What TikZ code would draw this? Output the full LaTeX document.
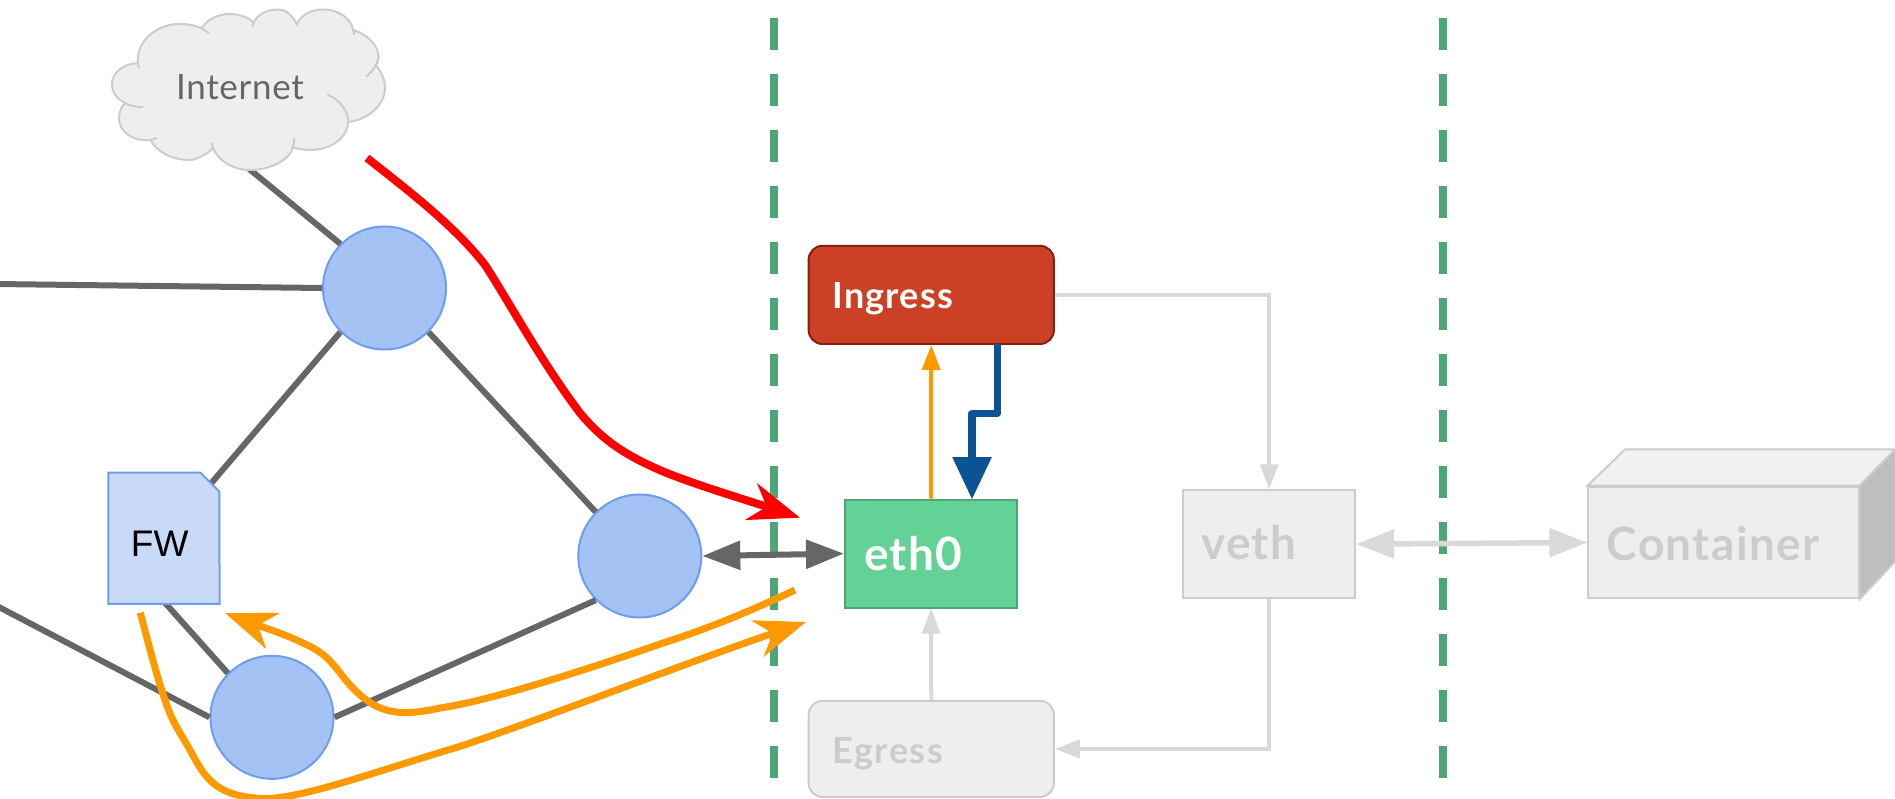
\documentclass[tikz,border=0pt]{standalone}
\usepackage{fontspec}
\setmainfont{Lato}
\newfontfamily\labelfont{Liberation Sans}
\newfontfamily\spacedA[LetterSpace=3]{Lato}
\newfontfamily\spacedB[LetterSpace=4]{Lato}
\newfontfamily\spacedC[LetterSpace=2]{Lato}
\usetikzlibrary{arrows.meta}
\definecolor{netgray}{HTML}{666666}
\definecolor{ghost}{HTML}{D9D9D9}
\definecolor{ghostedge}{HTML}{CCCCCC}
\definecolor{ghostfill}{HTML}{EEEEEE}
\definecolor{splitgreen}{HTML}{4EA576}
\definecolor{hostblue}{HTML}{A4C2F4}
\definecolor{hostedge}{HTML}{6D9EEB}
\definecolor{fwfill}{HTML}{C9DAF8}
\definecolor{flow}{HTML}{FF9900}
\definecolor{blueflow}{HTML}{0B5394}
\tikzset{
  host/.style={circle,draw=hostedge,fill=hostblue,line width=2pt,minimum size=123pt,inner sep=0pt},
  netline/.style={draw=netgray,line width=6pt},
  divider/.style={draw=splitgreen,line width=8pt,dash pattern=on 32pt off 24pt},
  ghostbox/.style={draw=ghostedge,fill=ghostfill,line width=2pt,inner sep=0pt},
  ghostline/.style={draw=ghost,line width=4pt,-{Triangle[length=25pt,width=18pt]}},
  ghostbig/.style={draw=ghost,line width=5.5pt,{Triangle[length=38pt,width=28pt]}-{Triangle[length=38pt,width=28pt]}},
  boldlabel/.style={anchor=base west,inner sep=0pt},
  redflow/.style={draw=red,line width=8pt,-{Stealth[length=51pt,width=38pt,inset=16pt]}},
  orangeflow/.style={draw=flow,line width=7pt,-{Stealth[length=51pt,width=38pt,inset=16pt]}},
}
\begin{document}
\begin{tikzpicture}[x=1pt,y=-1pt]
\useasboundingbox (0,0) rectangle (1895,799);
\clip (0,0) rectangle (1895,799);
% named free ends
\coordinate (cloudfoot) at (248,168);
\coordinate (leftA) at (-5,284);
\coordinate (leftB) at (-5,605);
\coordinate (fwcut) at (208,487);
\coordinate (fwfoot) at (164.3,602);
\coordinate (divAtop) at (773.5,18);
\coordinate (divAbot) at (773.5,778);
\coordinate (divBtop) at (1442.5,18);
\coordinate (divBbot) at (1442.5,778);
\coordinate (bluestart) at (997.3,344);
\coordinate (blueelbowA) at (997.3,413.5);
\coordinate (blueelbowB) at (972,413.5);
\coordinate (blueend) at (972,499.5);
% dividers
\draw[divider] (divAtop) -- (divAbot);
\draw[divider] (divBtop) -- (divBbot);
% hosts
\node[host] (topc) at (384.5,288) {};
\node[host] (rc) at (639.8,556) {};
\node[host] (bc) at (272,717.3) {};
% boxes
\node[draw=none,minimum width=110.7pt,minimum height=131pt,inner sep=0pt] (fw) at (164,538.2) {};
\node[draw={rgb,255:red,133;green,32;blue,12},fill={rgb,255:red,204;green,65;blue,37},line width=2pt,rounded corners=14pt,minimum width=245.3pt,minimum height=98.2pt,inner sep=0pt] (ingress) at (931.25,294.9) {};
\node[draw={rgb,255:red,78;green,165;blue,118},fill={rgb,255:red,99;green,210;blue,151},line width=2pt,minimum width=172.2pt,minimum height=108.2pt,inner sep=0pt] (eth) at (931.1,553.6) {};
\node[ghostbox,rounded corners=14pt,minimum width=245.3pt,minimum height=96.2pt] (egress) at (931.25,748.9) {};
\node[ghostbox,minimum width=171.7pt,minimum height=107.7pt] (veth) at (1269.15,544.15) {};
\node[ghostbox,minimum width=270.2pt,minimum height=111.6pt] (container) at (1723.5,542.5) {};
% network links
\draw[netline] (cloudfoot) -- (topc.135);
\draw[netline] (leftA) -- (topc.west);
\draw[netline] (topc.225) -- (fwcut);
\draw[netline] (topc.-45) -- (rc.135);
\draw[netline] (fwfoot) -- (bc.135);
\draw[netline] (leftB) -- (bc.west);
\draw[netline] (bc.east) -- (rc.225);
% cloud
\path[draw=ghostedge,fill=ghostfill,line width=2pt]
 (137.8,63.3)
 .. controls (136,40) and (158,24) .. (179,24)
 .. controls (187,24) and (195,25) .. (201.5,28.3)
 .. controls (208,18) and (220,14) .. (230,14)
 .. controls (240,14) and (250,18) .. (253.6,23)
 .. controls (257,14) and (268,9.5) .. (278,9.5)
 .. controls (287,9.5) and (293,17) .. (297,24)
 .. controls (302,14) and (312,9.5) .. (323,9.5)
 .. controls (340,9.5) and (352,20) .. (353,30)
 .. controls (368,34) and (378.6,47) .. (378.6,56)
 .. controls (378.6,60) and (378,62) .. (376,65)
 .. controls (382,73) and (385,80) .. (385,88)
 .. controls (385,105) and (368,120) .. (348,122)
 .. controls (348,138) and (330,150) .. (311,150)
 .. controls (304,150) and (298,149) .. (293,147)
 .. controls (290,160) and (270,170) .. (250,170)
 .. controls (232,170) and (218,160) .. (213,148)
 .. controls (205,156) and (195,160) .. (190,160)
 .. controls (172,160) and (157,152) .. (150.5,140)
 .. controls (133,142) and (119,132) .. (119,118)
 .. controls (119,112) and (121,107) .. (125,103)
 .. controls (116,98) and (112,92) .. (112,84)
 .. controls (112,72) and (125,63) .. (137.8,63.3)
 -- cycle;
\draw[draw=ghostedge,line width=2pt]
 (137.8,63.3) -- (139,68)
 (201.5,28.3) -- (209,33)
 (253.6,23) -- (252.5,27)
 (297,24) -- (296,25.5)
 (353,30) -- (354.5,35)
 (378.6,56) .. controls (378,64) and (372,72) .. (366,76.5)
 (327.5,94.5) .. controls (340,100) and (349,112) .. (348,122)
 (293,147) .. controls (294,144) and (294,141) .. (294.5,138)
 (213,148) -- (211.5,143)
 (150.5,140) -- (157,138)
 (125,103) .. controls (130,106) and (136,107) .. (143,107);
\node[inner sep=0pt,text=netgray,font=\spacedC\fontsize{35}{40}\selectfont] (internet) at (240,87) {Internet};
% FW page
\path[draw=hostedge,fill=fwfill,line width=2pt]
 (fw.north west) -- (200.5,472.7) -- (219.4,491.7) -- (fw.south east) -- (fw.south west) -- cycle;
\node[inner sep=0pt,font=\labelfont\fontsize{37}{40}\selectfont,text=black] (fwlabel) at (159.7,543.3) {FW};
% container faces
\path[draw=ghostedge,fill={rgb,255:red,241;green,241;blue,241},line width=2pt]
 (container.north west) -- (1625.2,449.3) -- (1895.6,449.3) -- (container.north east) -- cycle;
\path[draw=ghostedge,fill={rgb,255:red,190;green,190;blue,190},line width=2pt]
 (container.north east) -- (1895.6,449.3) -- (1895.6,561) -- (container.south east) -- cycle;
% light connectors
\draw[ghostline,line join=miter] (ingress.east) -| (veth.north);
\draw[ghostline,line join=miter] (veth.south) |- (egress.east);
\draw[ghostline] (egress.north) -- (eth.south);
\draw[ghostbig] (veth.east) -- (container.west);
% strong connectors
\draw[draw=flow,line width=4pt,-{Triangle[length=25pt,width=18pt]}] (eth.north) -- (ingress.south);
\draw[draw=blueflow,line width=7.5pt,line join=round,-{Triangle[length=42.5pt,width=37.5pt]}] (bluestart) -- (blueelbowA) -- (blueelbowB) -- (blueend);
\draw[draw=netgray,line width=6pt,{Triangle[length=38pt,width=28pt]}-{Triangle[length=38pt,width=28pt]}] (rc.east) -- (eth.west);
% labels
\node[boldlabel,text=white,font=\spacedA\bfseries\fontsize{36}{40}\selectfont] (inglabel) at (832.7,308.6) {Ingress};
\node[boldlabel,text=white,font=\spacedA\bfseries\fontsize{46}{50}\selectfont] (ethlabel) at (864,570.8) {eth0};
\node[boldlabel,text=ghostedge,font=\spacedB\bfseries\fontsize{36}{40}\selectfont] (eglabel) at (832.7,763) {Egress};
\node[boldlabel,text=ghostedge,font=\spacedA\bfseries\fontsize{46}{50}\selectfont] (vethlabel) at (1201,559.7) {veth};
\node[boldlabel,text=ghostedge,font=\spacedA\bfseries\fontsize{46}{50}\selectfont] (contlabel) at (1606.6,560) {Container};
% flows (free-hand traces between named free ends)
\coordinate (redstart) at (367,158);
\coordinate (redend) at (800,517.7);
\coordinate (orAstart) at (795,590);
\coordinate (orAend) at (225,613);
\coordinate (orBstart) at (140.3,612.7);
\coordinate (orBend) at (806,622);
\draw[redflow] (redstart)
 .. controls (405,188) and (455,226) .. (485,265)
 .. controls (505,295) and (540,360) .. (580,413)
 .. controls (600,437) and (620,452) .. (653,467)
 .. controls (680,480) and (740,498) .. (redend);
\draw[orangeflow] (orAstart)
 .. controls (755,609) and (710,628) .. (663,643)
 .. controls (600,665) and (495,700) .. (440,708)
 .. controls (395,718) and (375,712) .. (350,685)
 .. controls (335,668) and (330,655) .. (305,644)
 .. controls (285,634) and (265,628) .. (orAend);
\draw[orangeflow] (orBstart)
 .. controls (150,650) and (158,680) .. (165,700)
 .. controls (172,722) and (180,732) .. (190,750)
 .. controls (205,778) and (215,796) .. (262,798.5)
 .. controls (300,800) and (380,770) .. (459,746.7)
 .. controls (540,720) and (680,665) .. (orBend);
\end{tikzpicture}
\end{document}
